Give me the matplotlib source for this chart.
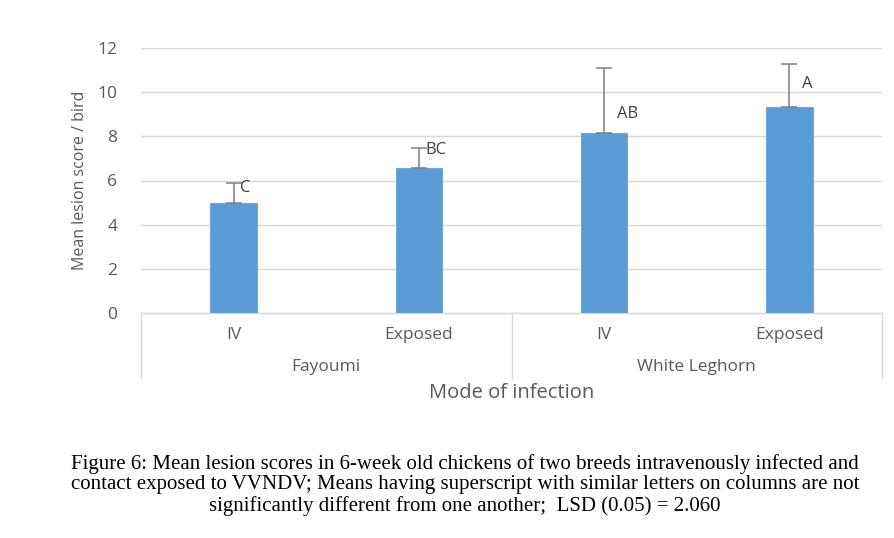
import matplotlib.pyplot as plt
import numpy as np

# data
breeds = ["Fayoumi", "White Leghorn"]
modes = ["IV", "Exposed", "IV", "Exposed"]
means = [5.0, 6.55, 8.15, 9.35]
err_top = [5.9, 7.46, 11.1, 11.28]
letters = ["C", "BC", "AB", "A"]

caption = ("Figure 6: Mean lesion scores in 6-week old chickens of two breeds intravenously infected and\n"
           "contact exposed to VVNDV; Means having superscript with similar letters on columns are not\n"
           "significantly different from one another;  LSD (0.05) = 2.060")

W, H = 894, 538
fig = plt.figure(figsize=(W / 100, H / 100), dpi=100)
plt.rcParams['font.family'] = ['Open Sans', 'DejaVu Sans']

# axes box in pixels
x0, x1, y0, y1 = 141, 882, 313, 48
ax = fig.add_axes([x0 / W, (H - y0) / H, (x1 - x0) / W, (y0 - y1) / H])

x = np.arange(len(means))
upper = np.array(err_top) - np.array(means)
ax.bar(x, means, width=0.25, color="#5b9bd5", edgecolor="#6fa8dc", linewidth=0.8, zorder=3)
ax.errorbar(x, means, yerr=[np.zeros(len(means)), upper], fmt="none",
            ecolor="#7f7f7f", elinewidth=1.1, capsize=5.5, capthick=1.1, zorder=4)

# significance letters
lc = "#404040"
ax.text(x[0] + 0.035, err_top[0] - 0.22, letters[0], fontsize=12, color=lc, va="center")
ax.text(x[1] + 0.035, err_top[1] - 0.1, letters[1], fontsize=12, color=lc, va="center")
ax.text(x[2] + 0.07, 9.0, letters[2], fontsize=12, color=lc, va="center")
ax.text(x[3] + 0.07, 10.35, letters[3], fontsize=12, color=lc, va="center")

ax.set_xlim(-0.5, 3.5)
ax.set_ylim(0, 12)
ax.set_yticks(np.arange(0, 13, 2))
ax.tick_params(axis="y", length=0, pad=17, labelsize=12.5, labelcolor="#595959")
ax.set_xticks([])
ax.grid(axis="y", color="#d9d9d9", linewidth=1, zorder=0)
for s in ["top", "right", "left"]:
    ax.spines[s].set_visible(False)
ax.spines["bottom"].set_color("#d9d9d9")
ax.spines["bottom"].set_linewidth(1)

ax.set_ylabel("Mean lesion score / bird", fontsize=11.5, color="#595959", labelpad=7)

# multi-level category axis
trans = ax.get_xaxis_transform()
ph = y0 - y1
for xv in [-0.5, 1.5, 3.5]:
    ax.plot([xv, xv], [0, -65 / ph], transform=trans, color="#d9d9d9", lw=1, clip_on=False)
for xi, m in zip(x, modes):
    ax.text(xi, -22 / ph, m, transform=trans, ha="center", va="center", fontsize=12.5, color="#595959")
for i, b in enumerate(breeds):
    ax.text(0.5 + 2 * i, -54 / ph, b, transform=trans, ha="center", va="center", fontsize=12.5, color="#595959")
ax.text(1.5, -80 / ph, "Mode of infection", transform=trans, ha="center", va="center",
        fontsize=14.5, color="#595959")

fig.text(465 / W, 1 - 485 / H, caption, ha="center", va="center", fontsize=15,
         family="Liberation Serif", linespacing=1.13, color="black")

fig.savefig("out.png", dpi=100)
